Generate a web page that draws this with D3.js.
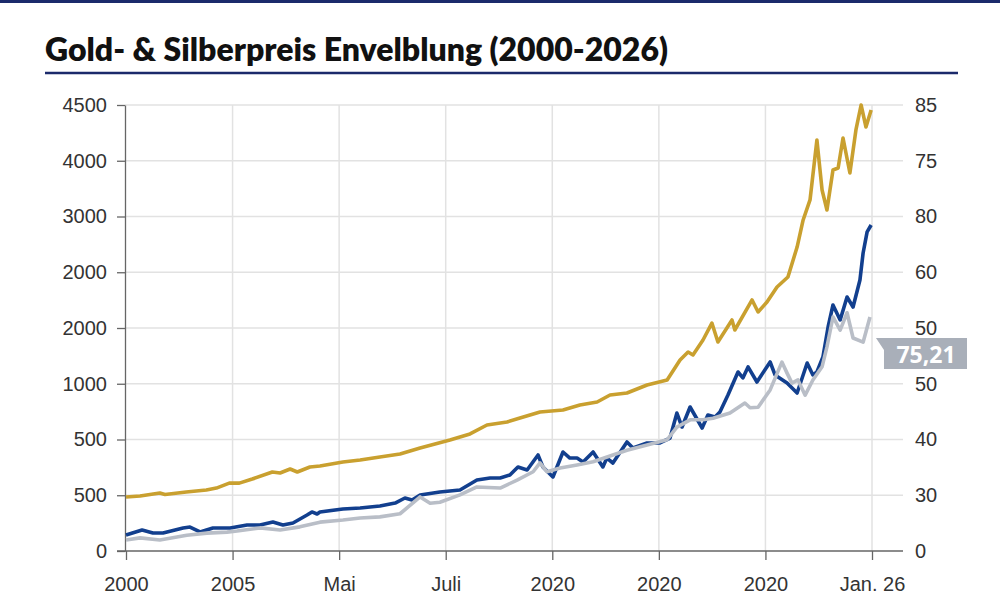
<!DOCTYPE html>
<html>
<head>
<meta charset="utf-8">
<script src="https://cdn.jsdelivr.net/npm/d3@7"></script>
<style>
  body { margin: 0; background: #fff; }
  svg { display: block; }
</style>
</head>
<body>
<svg width="1000" height="614"></svg>
<script>
// chart values
const chartTitle = "Gold- & Silberpreis Envelblung (2000-2026)";
const xTickLabels = ["2000", "2005", "Mai", "Juli", "2020", "2020", "2020", "Jan. 26"];
const leftTickLabels = ["0", "500", "500", "1000", "2000", "2000", "3000", "4000", "4500"];
const rightTickLabels = ["0", "30", "40", "50", "50", "60", "80", "75", "85"];
const lastLabel = "75,21";

// [year, value] on the left axis
const gold = [
  [2000.0, 545], [2000.49, 555], [2001.18, 585], [2001.36, 570], [2002.1, 595], [2002.8, 615],
  [2003.15, 635], [2003.6, 685], [2003.95, 685], [2004.4, 726], [2005.1, 797], [2005.37, 787],
  [2005.72, 827], [2005.97, 797], [2006.41, 848], [2006.76, 858], [2007.56, 898], [2008.16, 918],
  [2008.85, 948], [2009.55, 979], [2010.25, 1039], [2011.29, 1120], [2011.99, 1181], [2012.58, 1271],
  [2013.28, 1302], [2013.73, 1342], [2014.43, 1403], [2015.23, 1423], [2015.82, 1473], [2016.42, 1503],
  [2016.87, 1574], [2017.46, 1594], [2018.16, 1675], [2018.86, 1725], [2019.31, 1927], [2019.59, 2008],
  [2019.76, 1978], [2020.11, 2129], [2020.42, 2300], [2020.63, 2109], [2021.12, 2331], [2021.22, 2230],
  [2021.82, 2533], [2022.03, 2412], [2022.34, 2512], [2022.69, 2664], [2023.07, 2765], [2023.39, 3067],
  [2023.60, 3340], [2023.84, 3542], [2024.08, 4147], [2024.26, 3642], [2024.43, 3441], [2024.64, 3844],
  [2024.82, 3864], [2024.99, 4167], [2025.23, 3814], [2025.44, 4248], [2025.62, 4500], [2025.79, 4278],
  [2025.97, 4450]
];

// [year, value] on the left axis
const blue = [
  [2000.0, 161], [2000.56, 212], [2000.94, 182], [2001.29, 182], [2001.99, 232], [2002.23, 242],
  [2002.58, 192], [2003.03, 232], [2003.63, 232], [2004.22, 262], [2004.67, 262], [2005.12, 293],
  [2005.47, 262], [2005.82, 283], [2006.31, 363], [2006.48, 394], [2006.66, 373], [2006.76, 394],
  [2007.56, 424], [2008.16, 434], [2008.85, 454], [2009.38, 484], [2009.72, 535], [2009.97, 515],
  [2010.25, 565], [2010.94, 595], [2011.64, 616], [2012.23, 716], [2012.69, 737], [2013.04, 737],
  [2013.38, 767], [2013.66, 848], [2013.98, 817], [2014.36, 969], [2014.53, 848], [2014.88, 747],
  [2015.23, 999], [2015.47, 938], [2015.72, 938], [2015.93, 898], [2016.28, 999], [2016.62, 848],
  [2016.76, 938], [2016.97, 888], [2017.46, 1100], [2017.67, 1039], [2018.16, 1090], [2018.61, 1090],
  [2018.96, 1140], [2019.20, 1392], [2019.38, 1251], [2019.66, 1453], [2020.08, 1241], [2020.28, 1372],
  [2020.53, 1352], [2020.70, 1403], [2020.98, 1574], [2021.33, 1806], [2021.50, 1746], [2021.68, 1857],
  [2021.99, 1705], [2022.45, 1907], [2022.62, 1776], [2023.04, 1695], [2023.39, 1594], [2023.74, 1897],
  [2023.94, 1776], [2024.08, 1806], [2024.29, 1957], [2024.47, 2260], [2024.64, 2482], [2024.89, 2331],
  [2025.13, 2563], [2025.34, 2462], [2025.58, 2734], [2025.69, 3007], [2025.83, 3219], [2025.97, 3289]
];

// [year, value] on the right axis
const grey = [
  [2000.0, 2.1], [2000.49, 2.5], [2001.18, 2.1], [2002.12, 3.0], [2002.82, 3.4], [2003.52, 3.6],
  [2003.87, 3.8], [2004.67, 4.4], [2005.37, 4.0], [2006.06, 4.6], [2006.76, 5.5], [2007.56, 5.9],
  [2008.16, 6.3], [2008.85, 6.5], [2009.55, 7.1], [2010.25, 10.3], [2010.6, 9.1], [2010.94, 9.3],
  [2011.64, 10.7], [2012.23, 12.2], [2013.04, 12.0], [2013.63, 13.5], [2014.19, 15.1], [2014.43, 16.8],
  [2014.67, 15.1], [2015.13, 15.8], [2015.72, 16.4], [2016.28, 17.0], [2016.97, 18.3], [2017.46, 19.2],
  [2018.16, 20.2], [2018.86, 21.2], [2019.20, 23.6], [2019.66, 25.0], [2020.11, 25.0], [2020.46, 25.3],
  [2021.05, 26.3], [2021.57, 28.2], [2021.75, 27.3], [2022.03, 27.4], [2022.45, 30.7], [2022.86, 36.0],
  [2023.04, 33.9], [2023.21, 32.0], [2023.42, 32.6], [2023.67, 29.7], [2023.94, 32.6], [2024.26, 35.1],
  [2024.43, 38.9], [2024.64, 44.6], [2024.89, 42.1], [2025.13, 45.4], [2025.34, 40.6], [2025.69, 39.8],
  [2025.93, 44.6]
];

let svg = d3.select("svg");

let plotLeft = 125, plotRight = 903, plotTop = 105, plotBottom = 551;

let x = d3.scaleLinear().domain([2000, 2026]).range([126, 872]);
let yLeft = d3.scaleLinear().domain([0, 4500]).range([plotBottom, plotTop]);
let yRight = d3.scaleLinear().domain([0, 85]).range([plotBottom, plotTop]);

let xTicks = xTickLabels.map((d, i) => 2000 + i * 26 / (xTickLabels.length - 1));
let leftTicks = leftTickLabels.map((d, i) => i * 4500 / (leftTickLabels.length - 1));
let rightTicks = rightTickLabels.map((d, i) => i * 85 / (rightTickLabels.length - 1));

// top bar + title
svg.append("rect")
  .attr("x", 0).attr("y", 0)
  .attr("width", 1000).attr("height", 3)
  .attr("fill", "#1b2a6b");

svg.append("text")
  .attr("x", 45)
  .attr("y", 61)
  .style("font-family", "Lato, sans-serif")
  .style("font-weight", "800")
  .style("font-size", "32px")
  .style("fill", "#111")
  .text(chartTitle);

svg.append("line")
  .attr("x1", 45).attr("x2", 958)
  .attr("y1", 73).attr("y2", 73)
  .attr("stroke", "#1b2a6b")
  .attr("stroke-width", 2.5);

// grid
svg.append("g")
  .selectAll("line")
  .data(leftTicks.slice(1))
  .enter()
  .append("line")
    .attr("x1", plotLeft).attr("x2", plotRight)
    .attr("y1", d => yLeft(d)).attr("y2", d => yLeft(d))
    .attr("stroke", "#e2e2e2")
    .attr("stroke-width", 1.5);

svg.append("g")
  .selectAll("line")
  .data(xTicks.slice(1))
  .enter()
  .append("line")
    .attr("x1", d => x(d)).attr("x2", d => x(d))
    .attr("y1", plotTop).attr("y2", plotBottom)
    .attr("stroke", "#e2e2e2")
    .attr("stroke-width", 1.5);

// axes
let tickFont = function (g) {
  g.selectAll("text")
    .style("font-family", "'Liberation Sans', Arial, sans-serif")
    .style("font-size", "20px")
    .style("fill", "#333");
  g.selectAll("line").attr("stroke", "#666").attr("stroke-width", 1.3);
};

svg.append("g")
  .attr("transform", "translate(" + plotLeft + ",0)")
  .call(d3.axisLeft(yLeft).tickValues(leftTicks).tickSize(8).tickSizeOuter(0).tickPadding(10)
    .tickFormat((d, i) => leftTickLabels[i]))
  .call(g => g.select(".domain").attr("stroke", "#666").attr("stroke-width", 1.3))
  .call(tickFont);

svg.append("g")
  .attr("transform", "translate(" + plotRight + ",0)")
  .call(d3.axisRight(yRight).tickValues(rightTicks).tickSize(0).tickPadding(12)
    .tickFormat((d, i) => rightTickLabels[i]))
  .call(g => g.select(".domain").remove())
  .call(tickFont);

svg.append("g")
  .attr("transform", "translate(0," + plotBottom + ")")
  .call(d3.axisBottom(x).tickValues(xTicks).tickSize(9).tickPadding(17)
    .tickFormat((d, i) => xTickLabels[i]))
  .call(g => g.select(".domain").remove())
  .call(tickFont);

svg.append("line")
  .attr("x1", 117).attr("x2", plotRight)
  .attr("y1", plotBottom).attr("y2", plotBottom)
  .attr("stroke", "#666")
  .attr("stroke-width", 1.5);

// lines
let lineLeft = d3.line().x(d => x(d[0])).y(d => yLeft(d[1]));
let lineRight = d3.line().x(d => x(d[0])).y(d => yRight(d[1]));

svg.append("path")
  .datum(blue)
  .attr("d", lineLeft)
  .attr("fill", "none")
  .attr("stroke", "#123f8e")
  .attr("stroke-width", 3.6)
  .attr("stroke-linejoin", "round");

svg.append("path")
  .datum(grey)
  .attr("d", lineRight)
  .attr("fill", "none")
  .attr("stroke", "#b9bec7")
  .attr("stroke-width", 3.6)
  .attr("stroke-linejoin", "round");

svg.append("path")
  .datum(gold)
  .attr("d", lineLeft)
  .attr("fill", "none")
  .attr("stroke", "#c9a02f")
  .attr("stroke-width", 3.6)
  .attr("stroke-linejoin", "round");

// callout for last value
let last = grey[grey.length - 1];
let bx = x(last[0]) + 6, by = yRight(last[1]) + 21;

svg.append("polygon")
  .attr("points", [
    [bx, by], [bx + 91, by], [bx + 91, by + 31], [bx + 8, by + 31], [bx + 8, by + 12]
  ].map(p => p.join(",")).join(" "))
  .attr("fill", "#a9afb9");

svg.append("text")
  .attr("x", bx + 50)
  .attr("y", by + 25)
  .attr("text-anchor", "middle")
  .style("font-family", "'Open Sans', sans-serif")
  .style("font-weight", "700")
  .style("font-size", "23px")
  .style("fill", "#fff")
  .text(lastLabel);
</script>
</body>
</html>
